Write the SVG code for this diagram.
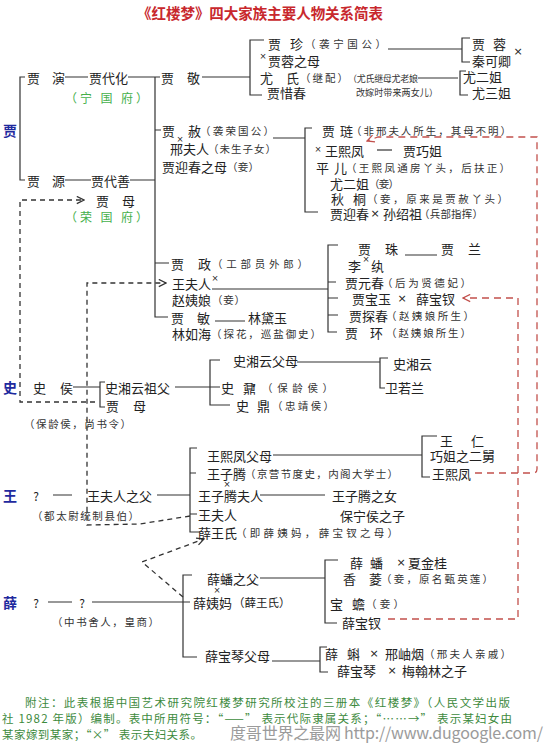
<svg xmlns="http://www.w3.org/2000/svg" width="553" height="744" viewBox="0 0 553 744">
<style>
.t{font-family:"Noto Sans CJK SC","Noto Sans CJK JP",sans-serif;font-size:13px;fill:#222;dominant-baseline:central}
.p{font-size:10.5px;fill:#333}
.q{font-size:9px;fill:#333}
.g{fill:#45b04b;font-size:12px}
.b{fill:#1f2a9e;font-weight:bold;font-size:14px}
.x{font-family:"DejaVu Sans",sans-serif;font-size:11px;fill:#222}
.y{font-family:"DejaVu Sans",sans-serif;font-size:8.5px;fill:#222}
.n{font-family:"Noto Sans CJK SC",sans-serif;font-size:11.5px;fill:#3d8a3d;dominant-baseline:central}
.ln{stroke:#333;stroke-width:1.2;fill:none}
.ds{stroke:#333;stroke-width:1.3;fill:none;stroke-dasharray:5 4}
.rd{stroke:#c2504c;stroke-width:1.3;fill:none;stroke-dasharray:7 5}
</style>
<defs>
<marker id="ak" viewBox="0 0 10 10" refX="9" refY="5" markerWidth="9" markerHeight="9" markerUnits="userSpaceOnUse" orient="auto"><path d="M1 1L9 5L1 9" fill="none" stroke="#333" stroke-width="1.4"/></marker>
<marker id="ar" viewBox="0 0 10 10" refX="9" refY="5" markerWidth="9" markerHeight="9" markerUnits="userSpaceOnUse" orient="auto"><path d="M1 1L9 5L1 9" fill="none" stroke="#c2504c" stroke-width="1.4"/></marker>
</defs>
<rect width="553" height="744" fill="#fff"/>
<text class="t" x="137" y="12" textLength="246" style="font-size:14.5px;font-weight:bold;fill:#c8282d">《红楼梦》四大家族主要人物关系简表</text>
<g id="labels">
<text class="t b" x="3" y="130">贾</text>
<text class="t b" x="3" y="387">史</text>
<text class="t b" x="3" y="495">王</text>
<text class="t b" x="3" y="602">薛</text>
</g>
<g id="connectors">
<path class="ln" d="M25 77H20V180H25M65 77H88M128 77H160M155 77V317H168M155 130H161M65 180H91M130 180H155M155 263H169M202 77H250M264 40H250V95H262M388 49H462M470 38H462V62H470M418 78H458M466 71H460V95H468"/>
<path class="ln" d="M273 138H305M312 128H305V212H318"/>
<path class="ln" d="M377 150H392"/>
<path class="ln" d="M212 289H328M338 245H328V332H337M328 282H336M328 298H338M328 315H338M405 255H437M215 321H245"/>
<path class="ln" d="M73 387H100M105 382H100V407H105M175 387H220M220 360H210V405H230M297 362H380M388 358H380V388H385"/>
<path class="ln" d="M53 495H72M157 495H190M197 448H190V532H200M190 473H196M190 514H197M273 455H422M437 436H422V477H430M260 495H325"/>
<path class="ln" d="M48 602H72M92 602H190M192 575H183V657H197M260 578H325M338 560H325V623H337M272 661H320M327 647H320V672H328"/>
<path class="ds" d="M95 402H20V200H84" marker-end="url(#ak)"/>
<path class="ds" d="M190 516L140 524L87 525V283H166" marker-end="url(#ak)"/>
<path class="ds" d="M183 597L142 562L204 539" marker-end="url(#ak)"/>
<path class="rd" d="M475 473H533Q537 473 537 469V137H378L367 141" marker-end="url(#ar)"/>
<path class="rd" d="M388 619H518V298H463" marker-end="url(#ar)"/>
</g>
<g id="ningguo">
<text class="t" id="jia-yan" x="27 52" y="77">贾演</text>
<text class="t" id="jia-daihua" x="89" y="77">贾代化</text>
<text class="t g" x="65" y="97" textLength="83">（宁 国 府）</text>
<text class="t" id="jia-jing" x="161 187" y="77">贾敬</text>
</g>
<g id="jia-zhen"><text class="t" x="268 290" y="43">贾珍</text><text class="t p" x="305" y="43" textLength="81">（袭宁国公）</text></g>
<g id="jia-rong-mu"><text class="t y" x="263" y="56" text-anchor="middle">×</text><text class="t" x="268" y="60">贾蓉之母</text></g>
<g id="you-shi"><text class="t" x="260 286" y="77">尤氏</text><text class="t p" x="300" y="77" textLength="48">（继配）</text><text class="t q" x="348" y="78" textLength="70">（尤氏继母尤老娘</text><text class="t q" x="356" y="92" textLength="82">改嫁时带来两女儿）</text></g>
<g id="jia-xichun"><text class="t" x="267" y="92">贾惜春</text></g>
<g id="jia-rong"><text class="t" x="472 493" y="43">贾蓉</text></g>
<g id="qin-keqing"><text class="t" x="472" y="60">秦可卿</text><text class="t x" x="518" y="51" text-anchor="middle">×</text></g>
<g id="you-erjie"><text class="t" x="463" y="76">尤二姐</text></g>
<g id="you-sanjie"><text class="t" x="472" y="92">尤三姐</text></g>
<g id="jia-she"><text class="t" x="162 188" y="130">贾赦</text><text class="t p" x="200" y="130" textLength="74">（袭荣国公）</text></g>
<g id="xing-furen"><text class="t y" x="180" y="139" text-anchor="middle">×</text><text class="t" x="170" y="148">邢夫人</text><text class="t p" x="208" y="148" textLength="68">（未生子女）</text></g>
<g id="yingchun-mu"><text class="t" x="162" y="166">贾迎春之母</text><text class="t p" x="227" y="166" textLength="32">（妾）</text></g>
<g id="jia-lian"><text class="t" x="322 340" y="130">贾琏</text><text class="t p" x="351" y="130" textLength="160">（非邢夫人所生，其母不明）</text></g>
<g id="wang-xifeng-j"><text class="t y" x="318" y="149" text-anchor="middle">×</text><text class="t" x="325" y="150">王熙凤</text></g>
<g id="jia-qiaojie"><text class="t" x="403" y="150">贾巧姐</text></g>
<g id="ping-er"><text class="t" x="316 334" y="167">平儿</text><text class="t p" x="346" y="167" textLength="164">（王熙凤通房丫头，后扶正）</text></g>
<g id="you-erjie-2"><text class="t" x="330" y="183">尤二姐</text><text class="t p" x="369" y="183" textLength="30">（妾）</text></g>
<g id="qiu-tong"><text class="t" x="331 353" y="198">秋桐</text><text class="t p" x="367" y="198" textLength="141">（妾，原来是贾赦丫头）</text></g>
<g id="jia-yingchun"><text class="t" x="330" y="213">贾迎春</text><text class="t x" x="375" y="213" text-anchor="middle">×</text><text class="t" x="383" y="213">孙绍祖</text><text class="t p" x="419" y="213" textLength="64">（兵部指挥）</text></g>
<g id="rongguo">
<text class="t" id="jia-yuan" x="27 52" y="180">贾源</text>
<text class="t" id="jia-daishan" x="91" y="180">贾代善</text>
<text class="t" id="jia-mu" x="96 122" y="200">贾母</text>
<text class="t g" x="65" y="216" textLength="83">（荣 国 府）</text>
</g>
<g id="jia-zheng"><text class="t" x="171 198" y="263">贾政</text><text class="t p" x="212" y="263" textLength="96">（工部员外郎）</text></g>
<g id="wang-furen-j"><text class="t" x="172" y="283">王夫人</text><text class="t y" x="215" y="278" text-anchor="middle">×</text></g>
<g id="zhao-yiniang"><text class="t" x="172" y="299">赵姨娘</text><text class="t p" x="212" y="299" textLength="33">（妾）</text></g>
<g id="jia-min"><text class="t" x="171 197" y="317">贾敏</text></g>
<g id="lin-daiyu"><text class="t" x="248" y="317">林黛玉</text></g>
<g id="lin-ruhai"><text class="t" x="172" y="333">林如海</text><text class="t p" x="211" y="333" textLength="110">（探花，巡盐御史）</text></g>
<g id="jia-zhu"><text class="t" x="358 385" y="248">贾珠</text></g>
<g id="jia-lan"><text class="t" x="441 468" y="248">贾兰</text></g>
<g id="li-wan"><text class="t" x="348" y="265">李</text><text class="t y" x="366" y="259" text-anchor="middle">×</text><text class="t" x="371" y="265">纨</text></g>
<g id="jia-yuanchun"><text class="t" x="345" y="282">贾元春</text><text class="t p" x="382" y="282" textLength="89">（后为贤德妃）</text></g>
<g id="jia-baoyu"><text class="t" x="352" y="298">贾宝玉</text><text class="t x" x="402" y="298" text-anchor="middle">×</text><text class="t" x="416" y="298">薛宝钗</text></g>
<g id="jia-tanchun"><text class="t" x="349" y="315">贾探春</text><text class="t p" x="386" y="315" textLength="88">（赵姨娘所生）</text></g>
<g id="jia-huan"><text class="t" x="345 370" y="332">贾环</text><text class="t p" x="386" y="332" textLength="85">（赵姨娘所生）</text></g>
<g id="shi-hou"><text class="t" x="33 60" y="387">史侯</text><text class="t p" x="24" y="423" textLength="107">（保龄侯，尚书令）</text></g>
<g id="xiangyun-zufu"><text class="t" x="105" y="387">史湘云祖父</text></g>
<g id="jia-mu-shi"><text class="t" x="106 133" y="405">贾母</text></g>
<g id="xiangyun-fumu"><text class="t" x="233" y="360">史湘云父母</text></g>
<g id="shi-nai"><text class="t" x="221 243" y="387">史鼐</text><text class="t p" x="262" y="387" textLength="71">（保龄侯）</text></g>
<g id="shi-ding"><text class="t" x="236 257" y="405">史鼎</text><text class="t p" x="272" y="405" textLength="62">（忠靖侯）</text></g>
<g id="shi-xiangyun"><text class="t" x="393" y="363">史湘云</text></g>
<g id="wei-ruolan"><text class="t" x="385" y="387">卫若兰</text></g>
<g id="wang-zu"><text class="t" x="36" y="495" text-anchor="middle" style="font-size:12px">?</text><text class="t p" x="32" y="515" textLength="107">（都太尉统制县伯）</text></g>
<g id="wang-furen-fu"><text class="t" x="87" y="495">王夫人之父</text></g>
<g id="xifeng-fumu"><text class="t" x="207" y="455">王熙凤父母</text></g>
<g id="wang-ziteng"><text class="t" x="207" y="473">王子腾</text><text class="t p" x="245" y="473" textLength="153">（京营节度史，内阁大学士）</text><text class="t y" x="227" y="484" text-anchor="middle">×</text></g>
<g id="ziteng-furen"><text class="t" x="198" y="495">王子腾夫人</text></g>
<g id="wang-furen-w"><text class="t" x="198" y="514">王夫人</text></g>
<g id="xue-wangshi"><text class="t" x="198" y="532">薛王氏</text><text class="t p" x="236" y="532" textLength="162">（即薛姨妈，薛宝钗之母）</text></g>
<g id="wang-ren"><text class="t" x="440 471" y="440">王仁</text></g>
<g id="qiaojie-jiu"><text class="t" x="430" y="455">巧姐之二舅</text></g>
<g id="wang-xifeng-w"><text class="t" x="432" y="473">王熙凤</text></g>
<g id="ziteng-nv"><text class="t" x="332" y="495">王子腾之女</text></g>
<g id="baoning-zi"><text class="t" x="340" y="515">保宁侯之子</text></g>
<g id="xue-zu"><text class="t" x="36" y="602" text-anchor="middle" style="font-size:12px">?</text><text class="t" x="82" y="602" text-anchor="middle" style="font-size:12px">?</text><text class="t p" x="52" y="621" textLength="107">（中书舍人，皇商）</text></g>
<g id="xue-pan-fu"><text class="t" x="207" y="578">薛蟠之父</text><text class="t y" x="217" y="590" text-anchor="middle">×</text></g>
<g id="xue-yima"><text class="t" x="193" y="602">薛姨妈</text><text class="t" x="233" y="602" style="font-size:11.5px">（薛王氏）</text></g>
<g id="baoqin-fumu"><text class="t" x="205" y="655">薛宝琴父母</text></g>
<g id="xue-pan"><text class="t" x="350 370" y="562">薛蟠</text><text class="t x" x="401" y="562" text-anchor="middle">×</text><text class="t" x="408" y="562">夏金桂</text></g>
<g id="xiang-ling"><text class="t" x="343 369" y="578">香菱</text><text class="t p" x="381" y="578" textLength="112">（妾，原名甄英莲）</text></g>
<g id="bao-chan"><text class="t" x="330 352" y="603">宝蟾</text><text class="t p" x="366" y="603" textLength="38">（妾）</text></g>
<g id="xue-baochai"><text class="t" x="342" y="622">薛宝钗</text></g>
<g id="xue-ke"><text class="t" x="325 347" y="653">薛蝌</text><text class="t x" x="374" y="653" text-anchor="middle">×</text><text class="t" x="385" y="653">邢岫烟</text><text class="t p" x="424" y="653" textLength="87">（邢夫人亲戚）</text></g>
<g id="xue-baoqin"><text class="t" x="337" y="670">薛宝琴</text><text class="t x" x="392" y="670" text-anchor="middle">×</text><text class="t" x="402" y="670">梅翰林之子</text></g>
<g id="note">
<text class="n" x="25" y="702" textLength="485">附注：此表根据中国艺术研究院红楼梦研究所校注的三册本《红楼梦》（人民文学出版</text>
<text class="n" x="2" y="718" textLength="510">社 1982 年版）编制。表中所用符号：“——” 表示代际隶属关系；“……→” 表示某妇女由</text>
<text class="n" x="2" y="734" textLength="200">某家嫁到某家；“×” 表示夫妇关系。</text>
<text x="230" y="739" textLength="313" style="font-family:'Noto Sans CJK SC',sans-serif;font-size:16px;fill:#8a8a8a;opacity:.85">度哥世界之最网 http://www.dugoogle.com/</text>
</g>
</svg>
